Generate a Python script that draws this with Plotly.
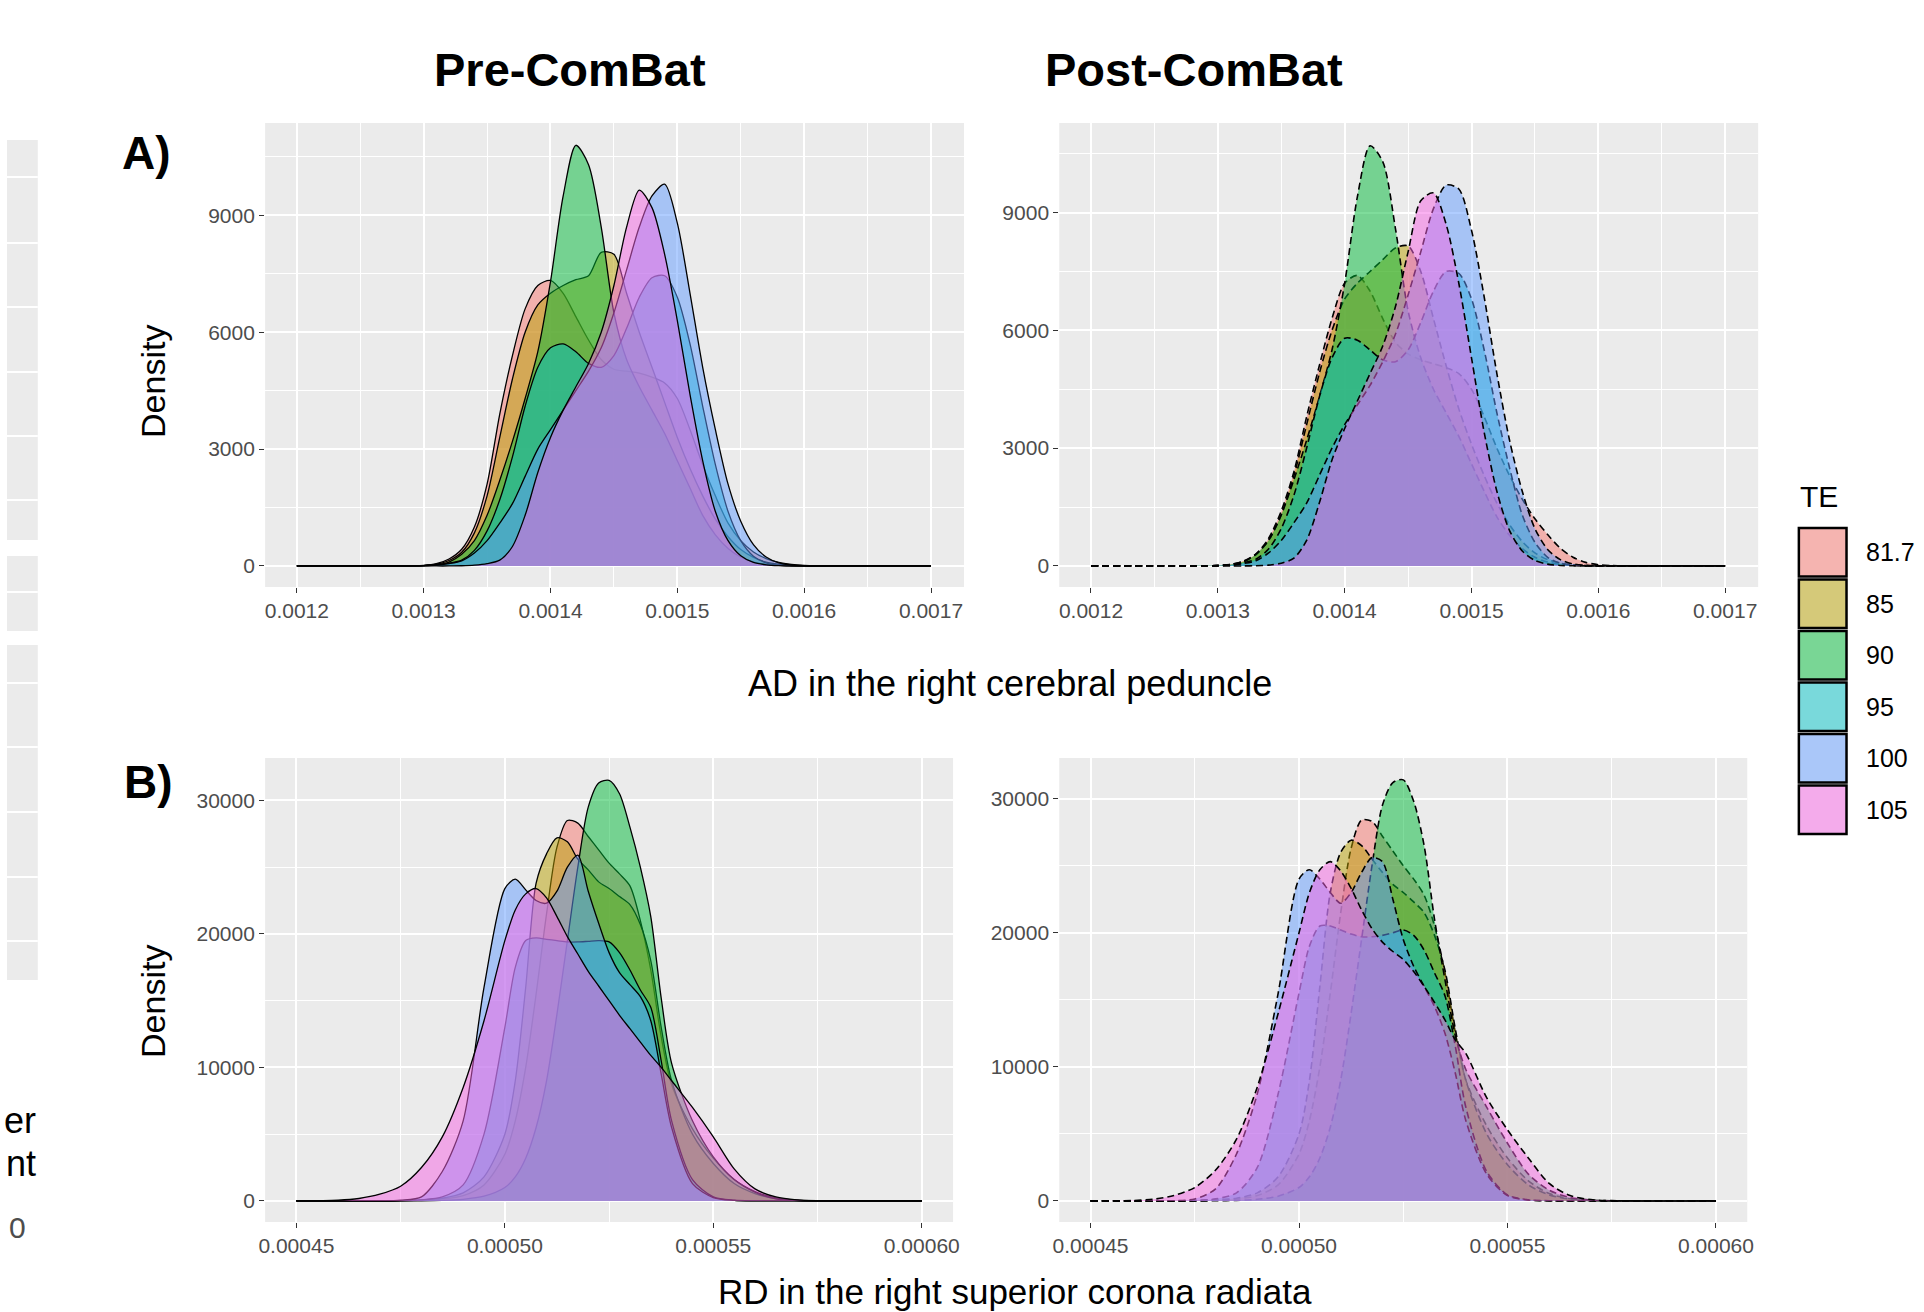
import plotly.graph_objects as go

W, H = 1924, 1312

# ---------------- data ----------------
te_levels = ["81.7", "85", "90", "95", "100", "105"]
te_colors = ["#F8766D", "#B79F00", "#00BA38", "#00BFC4", "#619CFF", "#F564E3"]

# AD in the right cerebral peduncle (x grid)
ad_x = [0.00120, 0.00127, 0.00128, 0.00129, 0.00130, 0.00131, 0.00132, 0.00133, 0.00134,
        0.00135, 0.00136, 0.00137, 0.00138, 0.00139, 0.00140, 0.00141, 0.00142, 0.00143,
        0.00144, 0.00145, 0.00146, 0.00147, 0.00148, 0.00149, 0.00150, 0.00151, 0.00152,
        0.00153, 0.00154, 0.00155, 0.00156, 0.00157, 0.00158, 0.00159, 0.00160, 0.00161,
        0.00162, 0.00163, 0.00170]

pre_ad_817 = [0, 0, 2, 6, 15, 60, 180, 430, 1000, 2100, 3900, 5400, 6600, 7200, 7330, 7000, 6400, 5800, 5300, 5050,
              5000, 4950, 4850, 4700, 4300, 3500, 2600, 1800, 1100, 650, 360, 190, 90, 40, 15, 5, 2, 0, 0]
pre_ad_85 = [0, 0, 1, 4, 10, 45, 140, 350, 850, 1800, 3300, 4800, 6000, 6700, 7000, 7200, 7350, 7450, 8050, 8000,
             7000, 6000, 5100, 4200, 3300, 2500, 1800, 1200, 750, 420, 220, 100, 45, 15, 5, 0, 0, 0, 0]
pre_ad_90 = [0, 0, 0, 2, 8, 30, 100, 300, 650, 1300, 2200, 3200, 4300, 5500, 7300, 9500, 10800, 10300, 8700, 6500,
             5300, 4600, 4000, 3400, 2700, 2000, 1300, 800, 450, 230, 100, 40, 15, 5, 0, 0, 0, 0, 0]
pre_ad_95 = [0, 0, 0, 2, 8, 25, 70, 150, 400, 900, 1700, 2800, 4100, 5100, 5600, 5700, 5500, 5200, 5100, 5400,
             6100, 6900, 7400, 7450, 6900, 5700, 4100, 2600, 1400, 650, 250, 80, 20, 5, 0, 0, 0, 0, 0]
pre_ad_100 = [0, 0, 0, 2, 8, 25, 60, 130, 330, 650, 1100, 1600, 2300, 3000, 3500, 4000, 4500, 5000, 5600, 6500,
              7600, 8700, 9500, 9800, 8800, 7000, 5100, 3500, 2100, 1150, 550, 230, 80, 25, 8, 2, 0, 0, 0]
pre_ad_105 = [0, 0, 0, 0, 0, 0, 0, 5, 20, 60, 150, 500, 1300, 2400, 3300, 4000, 4600, 5200, 6000, 7200,
              8700, 9650, 9200, 8000, 6300, 4400, 2700, 1400, 650, 260, 90, 30, 8, 2, 0, 0, 0, 0, 0]

post_ad_817 = [0, 0, 0, 3, 10, 40, 120, 300, 700, 1400, 2400, 3800, 5100, 6300, 7200, 7400, 7000, 6300, 5700, 5400,
               5250, 5150, 5050, 4900, 4500, 3800, 3000, 2300, 1700, 1200, 800, 450, 220, 90, 30, 10, 2, 0, 0]
post_ad_85 = [0, 0, 0, 2, 8, 35, 110, 280, 650, 1300, 2300, 3600, 4900, 6000, 6800, 7200, 7500, 7800, 8100, 8150,
              7500, 6300, 5100, 4000, 3100, 2300, 1600, 1050, 620, 330, 160, 70, 25, 8, 2, 0, 0, 0, 0]
post_ad_90 = [0, 0, 0, 2, 8, 30, 100, 300, 650, 1300, 2200, 3200, 4300, 5500, 7200, 9400, 10700, 10300, 8600, 6500,
              5300, 4500, 3900, 3300, 2600, 1900, 1250, 780, 440, 220, 100, 40, 15, 5, 0, 0, 0, 0, 0]
post_ad_95 = [0, 0, 0, 2, 10, 30, 80, 170, 430, 950, 1800, 3000, 4300, 5300, 5800, 5750, 5500, 5250, 5200, 5500,
              6200, 7000, 7500, 7450, 6800, 5500, 3900, 2500, 1300, 600, 220, 70, 20, 5, 0, 0, 0, 0, 0]
post_ad_100 = [0, 0, 0, 2, 8, 25, 60, 130, 330, 650, 1100, 1600, 2300, 3000, 3600, 4100, 4600, 5200, 5900, 6900,
               8000, 9100, 9700, 9600, 8550, 6850, 4900, 3200, 1900, 950, 420, 160, 50, 15, 3, 0, 0, 0, 0]
post_ad_105 = [0, 0, 0, 0, 0, 0, 0, 5, 20, 70, 200, 650, 1600, 2700, 3500, 4200, 4900, 5600, 6600, 8000,
               9300, 9500, 8700, 7200, 5300, 3400, 1900, 900, 380, 140, 45, 12, 3, 0, 0, 0, 0, 0, 0]

# RD in the right superior corona radiata (x grid)
rd_x = [0.000450, 0.000460, 0.000465, 0.000470, 0.000475, 0.000480, 0.000485, 0.000490, 0.000495,
        0.000500, 0.0005025, 0.000505, 0.0005075, 0.000510, 0.0005125, 0.000515, 0.0005175, 0.000520,
        0.0005225, 0.000525, 0.0005275, 0.000530, 0.0005325, 0.000535, 0.0005375, 0.000540, 0.000545,
        0.000550, 0.000555, 0.000560, 0.000565, 0.000570, 0.000575, 0.000600]

pre_rd_817 = [0, 0, 0, 5, 20, 60, 150, 400, 1200, 3500, 6000, 10000, 15500, 21500, 26500, 28500, 28300, 27300,
              26300, 25300, 24500, 23600, 21000, 17300, 12300, 8700, 5400, 3200, 1600, 700, 220, 50, 10, 0]
pre_rd_85 = [0, 0, 0, 5, 20, 70, 200, 600, 1800, 5000, 9000, 16000, 23800, 26000, 27200, 26900, 25600, 24800,
             23900, 23400, 22800, 22200, 20700, 18000, 13000, 9000, 5000, 2800, 1300, 550, 170, 40, 8, 0]
pre_rd_90 = [0, 0, 0, 0, 0, 10, 40, 120, 350, 1000, 1800, 3200, 5500, 9000, 14000, 19500, 25000, 29500,
             31300, 31500, 30500, 28000, 25000, 21300, 15200, 10300, 6000, 3300, 1600, 650, 150, 30, 5, 0]
pre_rd_95 = [0, 0, 0, 5, 20, 80, 300, 1200, 5000, 13000, 17500, 19500, 19700, 19600, 19500, 19400, 19400, 19450,
             19500, 19400, 18600, 17300, 15800, 14500, 10500, 6000, 1600, 300, 50, 5, 0, 0, 0, 0]
pre_rd_100 = [0, 0, 0, 0, 50, 300, 2200, 6000, 16000, 23400, 24100, 23300, 22500, 22300, 23200, 25000, 25900, 23200,
              20800, 18600, 17100, 16200, 15300, 13500, 9500, 5500, 1300, 250, 40, 5, 0, 0, 0, 0]
pre_rd_105 = [0, 50, 180, 500, 1100, 2500, 4800, 8500, 13500, 19500, 21800, 23000, 23400, 22700, 21300, 19800, 18500, 17200,
              16100, 15000, 13900, 12900, 11900, 10900, 10000, 9000, 7000, 4800, 2400, 900, 300, 80, 20, 0]

post_rd_817 = [0, 0, 0, 5, 20, 60, 150, 400, 1200, 3500, 6000, 10000, 15500, 21500, 26300, 28400, 28300, 27200,
               26100, 25000, 24000, 22800, 20500, 17000, 12500, 9000, 5600, 3200, 1500, 550, 150, 30, 5, 0]
post_rd_85 = [0, 0, 0, 5, 20, 70, 200, 600, 1800, 5000, 9000, 16000, 23000, 26000, 26900, 26500, 25500, 24500,
              23600, 23000, 22300, 21500, 19800, 17200, 12800, 9000, 5000, 2700, 1200, 450, 130, 30, 5, 0]
post_rd_90 = [0, 0, 0, 0, 0, 10, 40, 120, 350, 1000, 1800, 3200, 5500, 9000, 14000, 19500, 25000, 29500,
              31200, 31400, 29800, 26500, 21000, 16500, 12300, 9800, 7000, 4300, 2000, 800, 250, 60, 10, 0]
post_rd_95 = [0, 0, 0, 5, 30, 150, 600, 2500, 8000, 15500, 19000, 20500, 20500, 20200, 19900, 19700, 19700, 19800,
              20000, 20200, 19800, 18700, 17000, 15300, 11500, 7000, 2200, 450, 80, 10, 0, 0, 0, 0]
post_rd_100 = [0, 0, 0, 10, 150, 900, 3500, 8000, 15500, 24000, 24700, 24000, 23000, 22200, 23000, 24500, 25600, 25300,
               22500, 19500, 17500, 16000, 14500, 12500, 9500, 6000, 2000, 400, 60, 5, 0, 0, 0, 0]
post_rd_105 = [0, 30, 120, 400, 1000, 2300, 4600, 8500, 14000, 20000, 23000, 24700, 25300, 24600, 23300, 21700, 20300, 19300,
               18600, 18000, 17100, 16000, 14800, 13500, 12000, 11000, 7700, 5300, 3200, 1300, 400, 100, 20, 0]

ad_pre = [pre_ad_817, pre_ad_85, pre_ad_90, pre_ad_95, pre_ad_100, pre_ad_105]
ad_post = [post_ad_817, post_ad_85, post_ad_90, post_ad_95, post_ad_100, post_ad_105]
rd_pre = [pre_rd_817, pre_rd_85, pre_rd_90, pre_rd_95, pre_rd_100, pre_rd_105]
rd_post = [post_rd_817, post_rd_85, post_rd_90, post_rd_95, post_rd_100, post_rd_105]

# ---------------- helpers ----------------
FONT = "Liberation Sans, Arial, Helvetica, sans-serif"


def px2x(p):
    return p / W


def px2y(p):
    return 1 - p / H


def rgba(h, a):
    h = h.lstrip("#")
    return "rgba(%d,%d,%d,%s)" % (int(h[0:2], 16), int(h[2:4], 16), int(h[4:6], 16), a)


fig = go.Figure()

panels = [
    ("x", "y", ad_x, ad_pre, False),
    ("x2", "y2", ad_x, ad_post, True),
    ("x3", "y3", rd_x, rd_pre, False),
    ("x4", "y4", rd_x, rd_post, True),
]
for xa, ya, xs, series, dashed in panels:
    for lvl, col, ys in zip(te_levels, te_colors, series):
        fig.add_trace(go.Scatter(
            x=xs, y=ys, xaxis=xa, yaxis=ya, mode="lines", name=lvl,
            fill="tozeroy", fillcolor=rgba(col, 0.5),
            line=dict(color="black", width=1.6 if dashed else 1.3,
                      dash="7px,4px" if dashed else "solid",
                      shape="spline", smoothing=0.8),
            showlegend=False, hoverinfo="skip"))

tickfont = dict(family=FONT, size=21, color="#4D4D4D")


def make_axis(dom, rng, tick0, dtick, mdtick, fmt, anchor, horiz):
    if horiz:
        domain = [px2x(dom[0]), px2x(dom[1])]
    else:
        domain = [px2y(dom[1]), px2y(dom[0])]
    return dict(domain=domain, range=rng, anchor=anchor, tickmode="linear", tick0=tick0, dtick=dtick,
                tickformat=fmt, showgrid=True, gridcolor="white", gridwidth=1.6, zeroline=False,
                showline=False, ticks="outside", ticklen=5, tickwidth=1.2, tickcolor="#333333",
                tickfont=tickfont, fixedrange=True,
                minor=dict(tick0=tick0, dtick=mdtick, showgrid=True, gridcolor="white", gridwidth=0.8, ticks=""))


layout = dict(
    width=W, height=H, autosize=False, margin=dict(l=0, r=0, t=0, b=0, pad=0),
    paper_bgcolor="white", plot_bgcolor="#EBEBEB", showlegend=False,
    font=dict(family=FONT, color="black"),
    xaxis=make_axis([260, 964], [0.001175, 0.001726], 0.0012, 0.0001, 0.00005, ".4f", "y", True),
    yaxis=make_axis([123, 587], [-540, 11372], 0, 3000, 1500, "d", "x", False),
    xaxis2=make_axis([1060, 1764], [0.001175, 0.001726], 0.0012, 0.0001, 0.00005, ".4f", "y2", True),
    yaxis2=make_axis([123, 587], [-537, 11282], 0, 3000, 1500, "d", "x2", False),
    xaxis3=make_axis([260, 953], [0.0004425, 0.0006075], 0.00045, 0.00005, 0.000025, ".5f", "y3", True),
    yaxis3=make_axis([758, 1222], [-1580, 33180], 0, 10000, 5000, "d", "x3", False),
    xaxis4=make_axis([1060, 1753], [0.0004425, 0.0006075], 0.00045, 0.00005, 0.000025, ".5f", "y4", True),
    yaxis4=make_axis([758, 1222], [-1573, 33030], 0, 10000, 5000, "d", "x4", False),
)
fig.update_layout(**layout)

annotations = []


def ann(text, x, y, size, xanchor="center", yanchor="middle", color="black", angle=0):
    annotations.append(dict(text=text, x=px2x(x), y=px2y(y), xref="paper", yref="paper",
                            xanchor=xanchor, yanchor=yanchor, showarrow=False, textangle=angle,
                            font=dict(family=FONT, size=size, color=color)))


ann("<b>Pre-ComBat</b>", 567, 70, 47)
ann("<b>Post-ComBat</b>", 1196, 70, 47)
ann("<b>A)</b>", 114, 153, 46, xanchor="left")
ann("<b>B)</b>", 116, 782, 46, xanchor="left")
ann("Density", 147, 381, 34, angle=-90)
ann("Density", 147, 1001, 34, angle=-90)
ann("AD in the right cerebral peduncle", 1010, 683, 36)
ann("RD in the right superior corona radiata", 1015, 1270, 35, yanchor="top")
ann("TE", 1804, 497, 30, xanchor="left")
ann("er", 31, 1120, 36, xanchor="right")
ann("nt", 31, 1163, 36, xanchor="right")
ann("0", 21, 1227, 30, xanchor="right", color="#4D4D4D")

shapes = []


def rect(x0, y0, x1, y1, fill, line_color=None, line_width=0):
    shapes.append(dict(type="rect", xref="paper", yref="paper", x0=px2x(x0), x1=px2x(x1),
                       y0=px2y(y1), y1=px2y(y0), fillcolor=fill, layer="above",
                       line=dict(color=line_color or "rgba(0,0,0,0)", width=line_width)))


# legend keys
for i, (lvl, col) in enumerate(zip(te_levels, te_colors)):
    y0 = 528 + i * 51.5
    y1 = y0 + 48.5
    rect(1805, y0, 1853, y1, "#F2F2F2")
    rect(1805, y0, 1853, y1, rgba(col, 0.5), "black", 2.5)
    ann(lvl, 1871, (y0 + y1) / 2, 25, xanchor="left")

# partial panel at the left edge
for y0, y1 in [(140, 540), (556, 631), (645, 980)]:
    rect(0, y0, 31, y1, "#EBEBEB")
for yl in [177, 243, 307, 372, 436, 500, 592, 683, 747, 812, 877, 941]:
    shapes.append(dict(type="line", xref="paper", yref="paper", x0=0, x1=px2x(31),
                       y0=px2y(yl), y1=px2y(yl), line=dict(color="white", width=2), layer="above"))

fig.update_layout(annotations=annotations, shapes=shapes)

fig.write_html("out.html", config={"displayModeBar": False},
               post_script="document.body.style.margin='0';document.body.style.overflow='hidden';")
